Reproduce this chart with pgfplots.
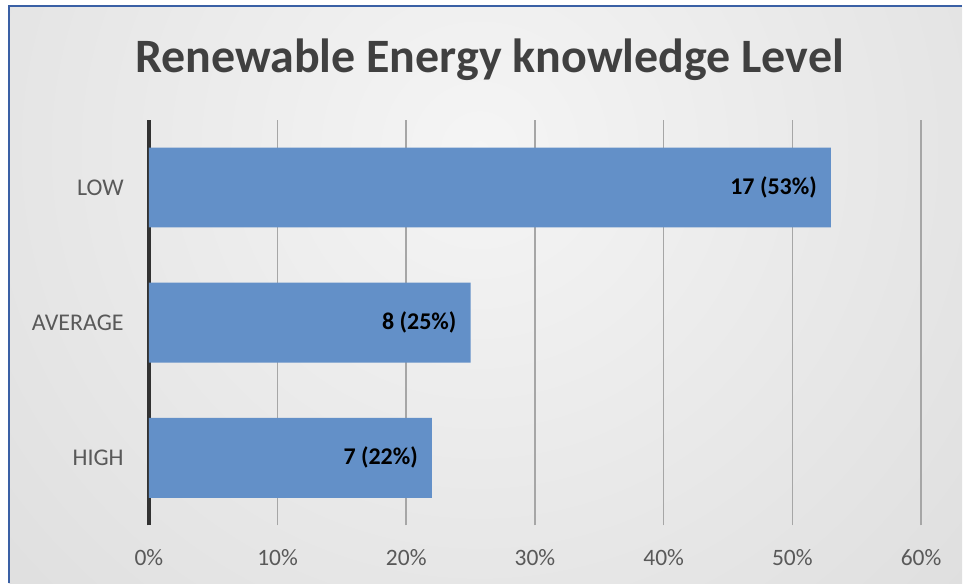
\documentclass[border=0pt]{standalone}
\usepackage{pgfplots}
\pgfplotsset{compat=1.18}
\usepackage{fontspec}
\setmainfont{Carlito}
\definecolor{barblue}{RGB}{99,144,200}
\definecolor{txtgray}{RGB}{89,89,89}
\definecolor{titlegray}{RGB}{64,64,64}
\definecolor{framebl}{RGB}{58,96,165}
\definecolor{gridgray}{RGB}{166,166,166}
\definecolor{zerogray}{RGB}{50,50,50}
\begin{document}
\begin{tikzpicture}
\fill[white] (0pt,0pt) rectangle (963pt,584pt);
\begin{scope}
\clip (9pt,0pt) rectangle (963pt,578pt);
\shade[inner color=gray!8, outer color=gray!42] (480pt,434pt) circle (1300pt);
\end{scope}
\draw[framebl, line width=2pt] (9pt,0pt) -- (9pt,578pt) -- (963pt,578pt);
\node[anchor=base, inner sep=0pt, font=\fontsize{48}{52}\selectfont\bfseries, text=titlegray] at (490pt,511pt) {Renewable Energy knowledge Level};
\begin{axis}[
  at={(149pt,58pt)}, anchor=south west,
  scale only axis, width=773pt, height=406pt,
  xbar, bar width=80pt,
  xmin=0, xmax=60, ymin=-0.5, ymax=2.5,
  xtick={10,20,30,40,50,60},
  xticklabels={10\%,20\%,30\%,40\%,50\%,60\%},
  extra x ticks={0}, extra x tick labels={0\%},
  extra x tick style={xmajorgrids=true, major grid style={draw=zerogray, line width=3.5pt}},
  ytick={0,1,2}, yticklabels={HIGH,AVERAGE,LOW},
  major tick length=0pt,
  xmajorgrids, major grid style={draw=gridgray, line width=1.5pt},
  axis line style={draw=none},
  xticklabel style={anchor=base, inner sep=0pt, yshift=-40pt, font=\fontsize{23.5}{27}\selectfont, text=txtgray},
  yticklabel style={anchor=east, inner sep=0pt, xshift=-25pt, font=\fontsize{24}{28}\selectfont, text=txtgray},
  clip=false,
  nodes near coords,
  point meta=explicit symbolic,
  every node near coord/.append style={anchor=east, inner sep=0pt, xshift=-14pt, font=\fontsize{24}{28}\selectfont\bfseries, text=black},
]
\addplot[fill=barblue, draw=none] coordinates {
  (22,0) [7 (22\%)]
  (25,1) [8 (25\%)]
  (53,2) [17 (53\%)]
};
\end{axis}
\end{tikzpicture}
\end{document}
